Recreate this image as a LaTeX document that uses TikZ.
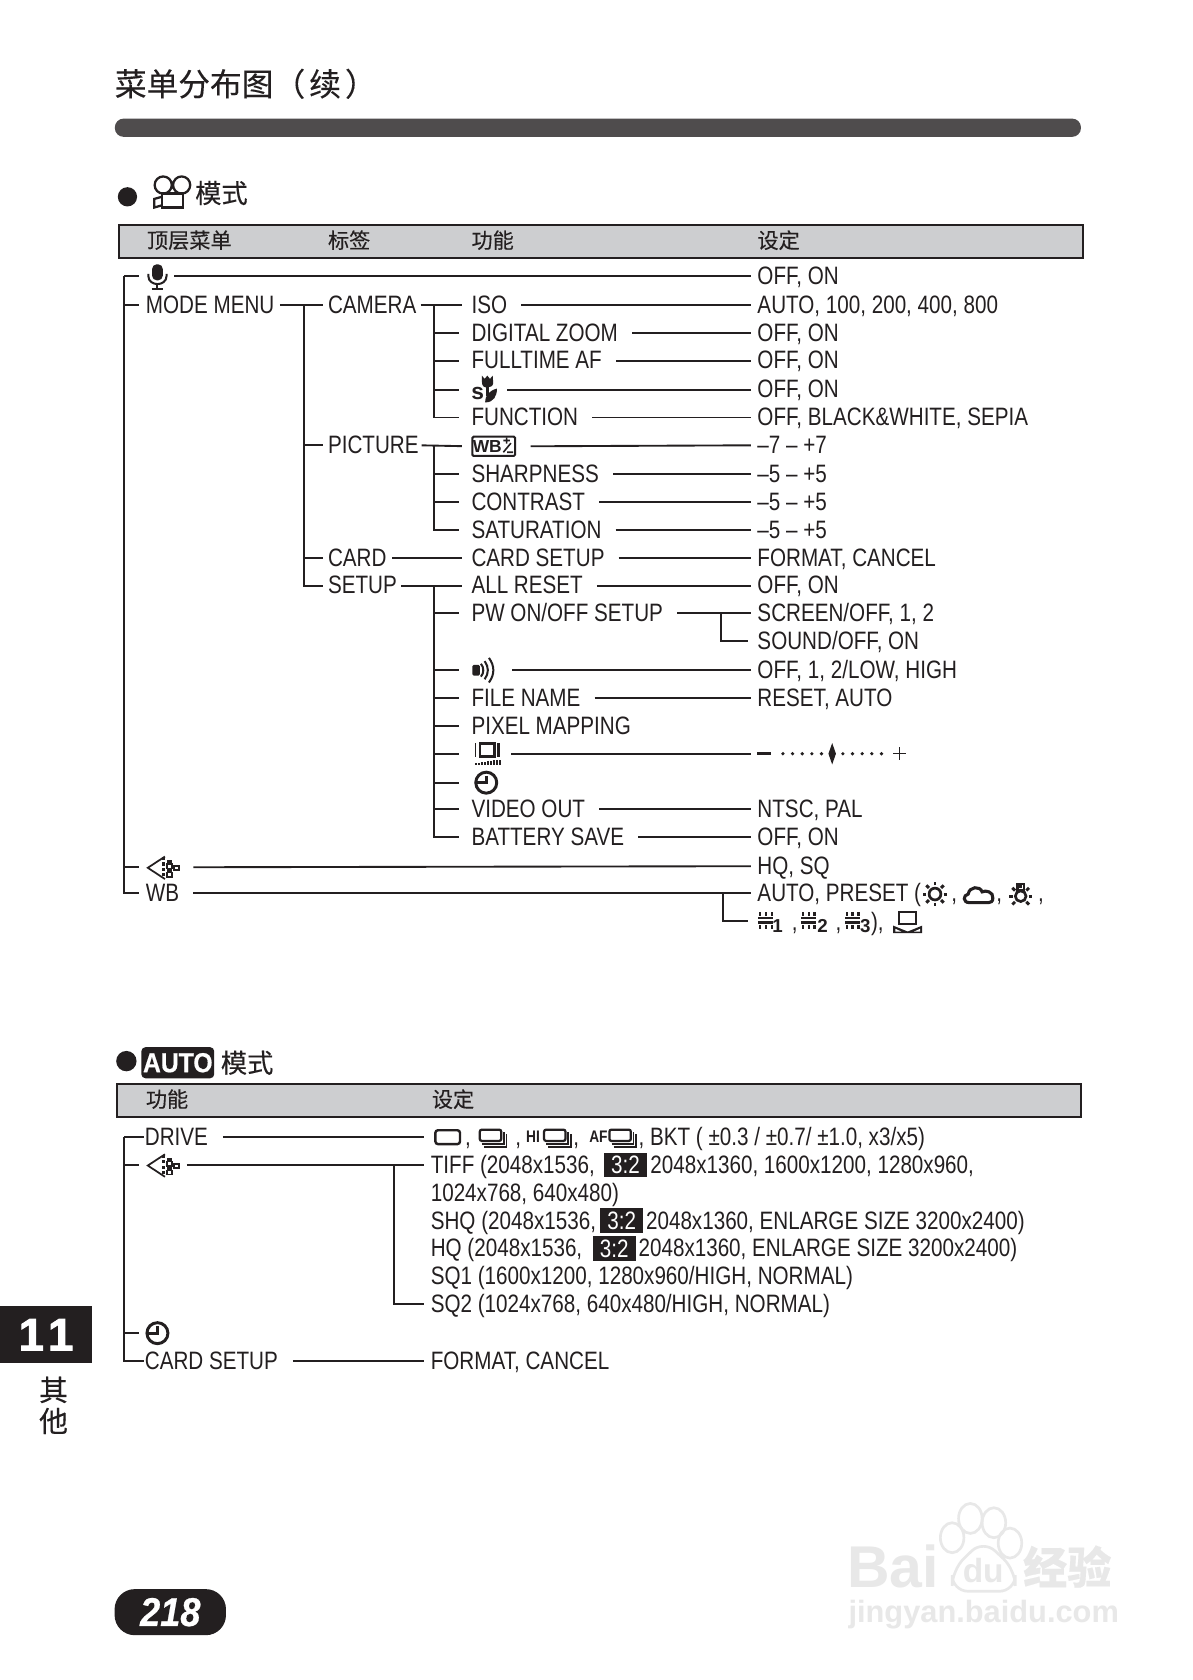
\documentclass[tikz,border=0pt]{standalone}
\usepackage{fontspec}
\setmainfont[FakeStretch=0.82]{Liberation Sans}
\newfontfamily\cjk[FakeBold=0.25]{Noto Sans CJK SC}
\newfontfamily\wmf{Liberation Sans}
\newfontfamily\heavyf[FakeBold=2]{Liberation Sans}
\newfontfamily\pagef[FakeStretch=0.9,FakeBold=0.6]{Liberation Sans}
\newcommand\mainsz{\fontsize{18.8pt}{22pt}\selectfont}
\newcommand\Lb[4]{\node[lab] (#1) at (#2,#3) {#4};}
\newcommand\Ic[6]{\node[icn,minimum width=#4*0.8pt] (#1) at (#2,#3) {};\pic at (#6,#3) {#5};}
\definecolor{ink}{HTML}{231F20}
\definecolor{hdr}{HTML}{CDCED0}
\definecolor{wm}{HTML}{E8E8E8}
\usetikzlibrary{calc}
\tikzset{
  lab/.style={anchor=west,inner sep=0pt,text height=12.4pt,text depth=0pt,font=\mainsz,text=ink},
  icn/.style={anchor=west,inner sep=0pt,minimum height=12pt},
  head/.style={anchor=west,inner sep=0pt,font=\cjk\fontsize{15.8pt}{18pt}\selectfont,text=ink},
  ln/.style={draw=ink,line width=1.4pt},
  gapped/.style={shorten <=10.4pt,shorten >=4.8pt},
  ratio/.style={fill=ink,text=white,inner sep=0pt,minimum width=32pt,minimum height=18.4pt,font=\mainsz},
  tiny/.style={inner sep=0pt,font=\bfseries\fontsize{12.5pt}{13pt}\selectfont,text=ink},
  digit/.style={inner sep=0pt,font=\wmf\bfseries\fontsize{14pt}{14pt}\selectfont,text=ink},
  pics/micro/.style={code={
    \fill[ink,rounded corners=3.5pt] (-5,-11) rectangle (5,4);
    \draw[ink,line width=1.5pt] (-8.5,-2) -- (-8.5,0) .. controls (-8.5,5) and (-4,7.5) .. (0,7.5) .. controls (4,7.5) and (8.5,5) .. (8.5,0) -- (8.5,-2);
    \draw[ink,line width=1.5pt] (0,7.5) -- (0,12.5) (-5.5,12.5) -- (5.5,12.5);
  }},
  pics/movie/.style={code={
    \draw[ink,line width=1.7pt] (-7.6,-7) circle[radius=8] (9.6,-7) circle[radius=8];
    \draw[ink,line width=1.7pt,fill=white] (-9,1) rectangle (10.6,14);
    \draw[ink,line width=1.7pt] (-9,4) -- (-16,6) -- (-16,14) -- (-9,12);
  }},
  pics/macro/.style={code={
    \fill[ink] (-2,-13) -- (0.5,-10) -- (3,-13) -- (5.5,-10) -- (8,-13) -- (8.5,-6) .. controls (8.5,-3) and (5,-2) .. (3,-2) .. controls (0,-2) and (-2,-3) .. (-2,-7) -- cycle;
    \fill[ink] (1.5,-3) rectangle (4.5,6);
    \fill[ink] (1,12) .. controls (1,5) and (5,1) .. (12,-1) .. controls (12,6) and (9,12) .. (1,12) -- cycle;
    \node[inner sep=0pt,text=ink,font=\wmf\bfseries\fontsize{17pt}{17pt}\selectfont] at (-6,4) {s};
  }},
  pics/wbbox/.style={code={
    \draw[ink,line width=1.5pt,rounded corners=1pt] (-20,-9) rectangle (20,9);
    \node[inner sep=0pt,text=ink,font=\wmf\bfseries\fontsize{13pt}{13pt}\selectfont] at (-6,0.5) {WB};
    \draw[ink,line width=1.2pt] (9,-5.5) -- (15,-5.5) (12,-8.5) -- (12,-2.5) (9,5.5) -- (16,-3) (12.5,5.5) -- (18,5.5);
  }},
  pics/sound/.style={code={
    \fill[ink,rounded corners=1pt] (-11,-5) rectangle (-4,5);
    \draw[ink,line width=1.5pt] (-3,-6) .. controls (0,-3) and (0,3) .. (-3,6) (0.5,-8.5) .. controls (4.5,-3) and (4.5,3) .. (0.5,8.5) (4.5,-11.5) .. controls (10,-4) and (10,4) .. (4.5,11.5);
  }},
  pics/lcd/.style={code={
    \draw[ink,line width=1.4pt] (-11,-10) -- (-11,3);
    \draw[ink,line width=1.9pt] (-7,-9.5) rectangle (6.5,2.5);
    \fill[ink] (9,-10) rectangle (12,3);
    \foreach \i/\h in {0/1.5,1/2,2/2.5,3/3,4/3.5,5/4,6/5,7/5,8/5} \fill[ink] (-11.5+2.8*\i,10.5) rectangle (-9.9+2.8*\i,10.5-\h);
  }},
  pics/clock/.style={code={
    \draw[ink,line width=2.2pt] (0,0) circle[radius=9.8];
    \draw[ink,line width=2pt] (0,-6.5) -- (0,0) -- (-8.5,0);
  }},
  pics/quality/.style={code={
    \draw[ink,line width=1.3pt] (2,-10) -- (-14,0.5) -- (2,11);
    \foreach \y in {-9.5,-4.5,0.5,5.5} \fill[ink] (-0.5,\y) rectangle (2.5,\y+3);
    \fill[ink] (4,-7) rectangle (8.5,-3);
    \draw[ink,line width=.9pt] (4,-3) rectangle (8.5,1);
    \fill[ink] (4,1) rectangle (8.5,5);
    \draw[ink,line width=.9pt] (4,5) rectangle (8.5,9);
    \draw[ink,line width=1.5pt] (10.5,-1) rectangle (15,3);
  }},
  pics/sun/.style={code={
    \draw[ink,line width=2pt] (0,0) circle[radius=5.5];
    \foreach \a in {0,45,...,315} \draw[ink,line width=2.2pt] (\a:8) -- (\a:11.5);
  }},
  pics/cloud/.style={code={
    \draw[ink,line width=2.3pt] (-9,7) .. controls (-15,7) and (-15,0) .. (-10,-1) .. controls (-9,-8) and (1,-9) .. (3,-3) .. controls (6,-5) and (14,-3) .. (13,3) .. controls (13,6) and (11,7) .. (9,7) -- cycle;
  }},
  pics/lamp/.style={code={
    \draw[ink,line width=2pt] (0,1) circle[radius=5];
    \draw[ink,line width=1.6pt] (-3,-10) rectangle (3,-5);
    \foreach \a in {0,45,135,180,225,270,315} \draw[ink,line width=2.2pt] ($(0,1)+(\a:7.5)$) -- ($(0,1)+(\a:11)$);
  }},
  pics/fluor/.style={code={
    \draw[ink,line width=1.7pt] (-7,-2.5) -- (7,-2.5) (-7,1.5) -- (7,1.5);
    \foreach \x in {-5.5,0,5.5} \fill[ink] (\x-1,-8) rectangle (\x+1,-4.5);
    \foreach \x in {-5.5,0,5.5} \fill[ink] (\x-1,3.5) rectangle (\x+1,8);
  }},
  pics/custom/.style={code={
    \draw[ink,line width=1.7pt] (-8,-9.5) rectangle (8,2);
    \fill[ink] (-13.5,3.5) -- (-13.5,10.5) -- (13.5,10.5) -- (13.5,3.5) -- (0,9) -- cycle;
    \fill[white] (-11.5,6.5) -- (-11.5,9) -- (-6,9) -- cycle;
    \fill[white] (11.5,6.5) -- (11.5,9) -- (6,9) -- cycle;
  }},
  pics/single/.style={code={
    \draw[ink,line width=1.8pt,rounded corners=2pt] (-11.5,-6.5) rectangle (11.5,6.5);
  }},
  pics/seq/.style={code={
    \draw[ink,line width=1.7pt,rounded corners=1.5pt] (-13,-7) rectangle (7,3.5);
    \draw[ink,line width=1.1pt] (-11,6.3) -- (9.5,6.3) -- (9.5,-5);
    \draw[ink,line width=1.1pt] (-9,9) -- (12,9) -- (12,-3);
  }},
  pics/scale/.style={code={
    \fill[ink] (0,-1.5) rectangle (13,1.5);
    \foreach \x in {24,33,42,51,60,80,89,98,107,116} \fill[ink] (\x,0) circle[radius=1.7];
    \fill[ink] (70,-10) -- (73.5,0) -- (70,10) -- (66.5,0) -- cycle;
    \draw[ink,line width=1pt] (127,0) -- (139,0) (133,-6) -- (133,6);
  }}
}
\begin{document}
\begin{tikzpicture}[x=0.8pt,y=-0.8pt]
\useasboundingbox (0,0) rectangle (1113,1568.6);
\fill[white] (0,0) rectangle (1113,1568.6);
\begin{scope}[yshift=-0.6pt]

% watermark
\node[inner sep=0pt,anchor=west,text=wm,font=\wmf\bfseries\fontsize{44pt}{50pt}\selectfont] (wmbai) at (791,1462) {Bai};
\foreach \cx/\cy in {889/1435,906/1417,928/1421,943/1440}
  \draw[wm,line width=2pt] (\cx,\cy) ellipse[x radius=11,y radius=14];
\draw[wm,line width=2pt,rounded corners=12pt] (889,1485) -- (889,1465) -- (918,1437) -- (948,1465) -- (948,1485) -- cycle;
\node[inner sep=0pt,text=wm,font=\wmf\bfseries\fontsize{25pt}{28pt}\selectfont] (wmdu) at (918,1466) {du};
\node[inner sep=0pt,anchor=west,text=wm,font=\cjk\bfseries\fontsize{33pt}{36pt}\selectfont] (wmjy) at (955,1462) {经验};
\node[inner sep=0pt,anchor=west,text=wm,font=\wmf\bfseries\fontsize{23pt}{28pt}\selectfont] (wmurl) at (792,1507) {jingyan.baidu.com};

% title
\node[inner sep=0pt,anchor=west,text=ink,font=\cjk\fontsize{23.7pt}{26pt}\selectfont] (title) at (107,77.5) {菜单分布图（\kern 3pt 续\kern 3pt ）};
\node[fill=ink!80,draw=none,rounded corners=6.5pt,minimum width=721.6pt,minimum height=13.6pt,inner sep=0pt,anchor=west] (bar) at (107,118.5) {};

% section 1 heading
\fill[ink] (119,183) circle[radius=9];
\pic at (160,179) {movie};
\node[inner sep=0pt,anchor=west,text=ink,font=\cjk\fontsize{19.6pt}{22pt}\selectfont] (modeA) at (182,179.5) {模式};

% header 1
\node[draw=ink,fill=hdr,line width=1.5pt,inner sep=0pt,minimum width=720pt,minimum height=24.8pt,anchor=west] (hdrA) at (110,224.5) {};
\node[head] (h1) at (137,223.5) {顶层菜单};
\node[head] (h2) at (306,223.5) {标签};
\node[head] (h3) at (440,223.5) {功能};
\node[head] (h4) at (707,223.5) {设定};

% first column
\Ic{mic}{139}{257}{10}{micro}{147}
\Lb{mode}{136}{284}{MODE MENU}
\Ic{qual}{138}{809}{29}{quality}{152}
\Lb{wb}{136}{833}{WB}

% second column
\Lb{cam}{306}{284}{CAMERA}
\Lb{pict}{306}{415}{PICTURE}
\Lb{card}{306}{520}{CARD}
\Lb{setup}{306}{546}{SETUP}

% third column
\Lb{iso}{440}{284}{ISO}
\Lb{dz}{440}{310}{DIGITAL ZOOM}
\Lb{faf}{440}{336}{FULLTIME AF}
\Ic{mac}{440}{363}{20}{macro}{452}
\Lb{fun}{440}{389}{FUNCTION}
\Ic{wbv}{440}{416}{42}{wbbox}{461}
\Lb{shp}{440}{442}{SHARPNESS}
\Lb{con}{440}{468}{CONTRAST}
\Lb{sat}{440}{494}{SATURATION}
\Lb{cset}{440}{520}{CARD SETUP}
\Lb{allr}{440}{546}{ALL RESET}
\Lb{pw}{440}{572}{PW ON/OFF SETUP}
\Ic{snd}{440}{625}{25}{sound}{452}
\Lb{fname}{440}{651}{FILE NAME}
\Lb{pix}{440}{677}{PIXEL MAPPING}
\Ic{lcd}{440}{703}{24}{lcd}{455}
\Ic{clk}{440}{730}{24}{clock}{454}
\Lb{vid}{440}{755}{VIDEO OUT}
\Lb{bat}{440}{781}{BATTERY SAVE}

% values
\Lb{v0}{707}{257}{OFF, ON}
\Lb{v1}{707}{284}{AUTO, 100, 200, 400, 800}
\Lb{v2}{707}{310}{OFF, ON}
\Lb{v3}{707}{336}{OFF, ON}
\Lb{v4}{707}{363}{OFF, ON}
\Lb{v5}{707}{389}{OFF, BLACK\&WHITE, SEPIA}
\Lb{v6}{707}{415}{–7 – +7}
\Lb{v7}{707}{442}{–5 – +5}
\Lb{v8}{707}{468}{–5 – +5}
\Lb{v9}{707}{494}{–5 – +5}
\Lb{v10}{707}{520}{FORMAT, CANCEL}
\Lb{v11}{707}{546}{OFF, ON}
\Lb{v12}{707}{572}{SCREEN/OFF, 1, 2}
\Lb{v13}{707}{598}{SOUND/OFF, ON}
\Lb{v14}{707}{625}{OFF, 1, 2/LOW, HIGH}
\Lb{v15}{707}{651}{RESET, AUTO}
\Ic{v16}{707}{703}{139}{scale}{707}
\Lb{v17}{707}{755}{NTSC, PAL}
\Lb{v18}{707}{781}{OFF, ON}
\Lb{v19}{707}{808}{HQ, SQ}
\Lb{v20}{707}{833}{AUTO, PRESET (}
\Ic{sunA}{862}{834}{22}{sun}{873}
\Lb{cm1}{888}{833}{,}
\Ic{cloudA}{899}{835}{30}{cloud}{914}
\Lb{cm2}{930}{833}{,}
\Ic{lampA}{942}{835}{22}{lamp}{953}
\Lb{cm3}{969}{833}{,}
\Ic{fl1}{707}{859}{15}{fluor}{715}
\node[digit] (d1) at (726,864) {1};
\Lb{cm4}{739}{860}{,}
\Ic{fl2}{748}{859}{15}{fluor}{755}
\node[digit] (d2) at (768,864) {2};
\Lb{cm5}{780}{860}{,}
\Ic{fl3}{789}{859}{15}{fluor}{796}
\node[digit] (d3) at (808,864) {3};
\Lb{cm6}{813}{860}{),}
\Ic{cust}{834}{860}{27}{custom}{847.5}

% connectors, section 1
\coordinate (j1) at (116,257);
\foreach \n/\g in {mic/7.2pt,mode/4.8pt,qual/6.4pt,wb/4.8pt}
  \draw[ln,shorten >=\g] (j1) |- (\n.west);
\draw[ln,shorten <=10.4pt,shorten >=4.8pt] (mic.east) -- (v0.west);
\coordinate (j2) at (284,284);
\draw[ln,shorten <=4pt,shorten >=3.2pt] (mode.east) -- (cam.west);
\foreach \n in {pict,card,setup}
  \draw[ln,shorten >=3.2pt] (j2) |- (\n.west);
\coordinate (j3) at (405,284);
\draw[ln,shorten <=3pt,shorten >=7pt] (cam.east) -- (iso.west);
\foreach \n in {dz,faf,mac,fun}
  \draw[ln,shorten >=8.8pt] (j3) |- (\n.west);
\coordinate (j4) at (405,416);
\draw[ln,shorten <=2pt,shorten >=7pt] (pict.east) -- (wbv.west);
\foreach \n in {shp,con,sat}
  \draw[ln,shorten >=8.8pt] (j4) |- (\n.west);
\draw[ln,shorten <=4pt,shorten >=7pt] (card.east) -- (cset.west);
\coordinate (j5) at (405,546);
\draw[ln,shorten <=3pt,shorten >=7pt] (setup.east) -- (allr.west);
\foreach \n in {pw,snd,fname,pix,lcd,clk,vid,bat}
  \draw[ln,shorten >=8.8pt] (j5) |- (\n.west);
\foreach \a/\b in {iso/v1,dz/v2,faf/v3,mac/v4,fun/v5,wbv/v6,shp/v7,con/v8,sat/v9,cset/v10,allr/v11,snd/v14,fname/v15,lcd/v16,vid/v17,bat/v18,qual/v19,wb/v20}
  \draw[ln,gapped] (\a.east) -- (\b.west);
\draw[ln,gapped] (pw.east) -- (v12.west);
\coordinate (j6) at (673,572);
\draw[ln,shorten >=7.2pt] (j6) |- (v13.west);
\coordinate (j7) at (675,833);
\draw[ln,shorten >=7.2pt] (j7) |- (fl1.west);

% section 2 heading
\fill[ink] (118,990) circle[radius=9.5];
\node[fill=ink,text=white,rounded corners=3pt,inner sep=0pt,minimum width=54.4pt,minimum height=23.2pt,font=\pagef\bfseries\fontsize{20.5pt}{22pt}\selectfont] (autoB) at (166,991.5) {AUTO};
\node[inner sep=0pt,anchor=west,text=ink,font=\cjk\fontsize{19.6pt}{22pt}\selectfont] (modeB) at (206,991.5) {模式};

% header 2
\node[draw=ink,fill=hdr,line width=1.5pt,inner sep=0pt,minimum width=720pt,minimum height=24.8pt,anchor=west] (hdrB) at (108,1026.5) {};
\node[head] (h5) at (136,1025.5) {功能};
\node[head] (h6) at (403,1025.5) {设定};

% section 2 rows
\Lb{drv}{135}{1061}{DRIVE}
\Ic{qual2}{138}{1087}{23}{quality}{152}
\Ic{clk2}{136}{1244}{22}{clock}{147}
\Lb{cs2}{135}{1270}{CARD SETUP}

\Ic{sg}{402}{1061}{29}{single}{418}
\Lb{c1}{434}{1061}{,}
\Ic{sq1}{447}{1061}{28}{seq}{461}
\Lb{c2}{481}{1061}{,}
\node[tiny,anchor=west] (hi) at (491,1061) {HI};
\Ic{sq2}{507}{1061}{28}{seq}{521}
\Lb{c3}{535}{1061}{,}
\node[tiny,anchor=west] (af) at (550,1061) {AF};
\Ic{sq3}{568}{1061}{28}{seq}{582}
\Lb{bkt}{596}{1061}{, BKT ( ±0.3 / ±0.7/ ±1.0, x3/x5)}

\Lb{t1}{402}{1087}{TIFF (2048x1536,}
\node[ratio] (r1) at (584,1087) {3:2};
\Lb{t1b}{607}{1087}{2048x1360, 1600x1200, 1280x960,}
\Lb{t2}{402}{1113}{1024x768, 640x480)}
\Lb{t3}{402}{1139}{SHQ (2048x1536,}
\node[ratio] (r2) at (580.5,1139) {3:2};
\Lb{t3b}{603}{1139}{2048x1360, ENLARGE SIZE 3200x2400)}
\Lb{t4}{402}{1165}{HQ (2048x1536,}
\node[ratio] (r3) at (573.5,1165) {3:2};
\Lb{t4b}{596}{1165}{2048x1360, ENLARGE SIZE 3200x2400)}
\Lb{t5}{402}{1191}{SQ1 (1600x1200, 1280x960/HIGH, NORMAL)}
\Lb{t6}{402}{1217}{SQ2 (1024x768, 640x480/HIGH, NORMAL)}
\Lb{t7}{402}{1270}{FORMAT, CANCEL}

\coordinate (k1) at (116,1061);
\foreach \n/\g in {drv/0.8pt,qual2/6.4pt,clk2/4.8pt,cs2/0.8pt}
  \draw[ln,shorten >=\g] (k1) |- (\n.west);
\draw[ln,shorten <=11pt,shorten >=4.8pt] (drv.east) -- (sg.west);
\draw[ln,shorten <=10.4pt,shorten >=4.8pt] (qual2.east) -- (t1.west);
\draw[ln,shorten <=11pt,shorten >=4.8pt] (cs2.east) -- (t7.west);
\coordinate (k2) at (368,1087);
\draw[ln,shorten >=4.8pt] (k2) |- (t6.west);

% side tab
\node[fill=ink,text=white,inner sep=0pt,minimum width=68.8pt,minimum height=42.4pt,font=\heavyf\bfseries\fontsize{34pt}{36pt}\selectfont] (tab) at (43,1245.5) {1\kern3pt 1};
\node[inner sep=0pt,text=ink,font=\cjk\fontsize{21.5pt}{24pt}\selectfont] (qi) at (50,1297) {其};
\node[inner sep=0pt,text=ink,font=\cjk\fontsize{21.5pt}{24pt}\selectfont] (ta) at (50,1326) {他};

% page number
\node[fill=ink,text=white,rounded corners=15pt,inner sep=0pt,minimum width=83.2pt,minimum height=34.4pt,font=\pagef\bfseries\itshape\fontsize{30pt}{30pt}\selectfont] (page) at (159,1504.5) {218};
\end{scope}
\end{tikzpicture}
\end{document}
